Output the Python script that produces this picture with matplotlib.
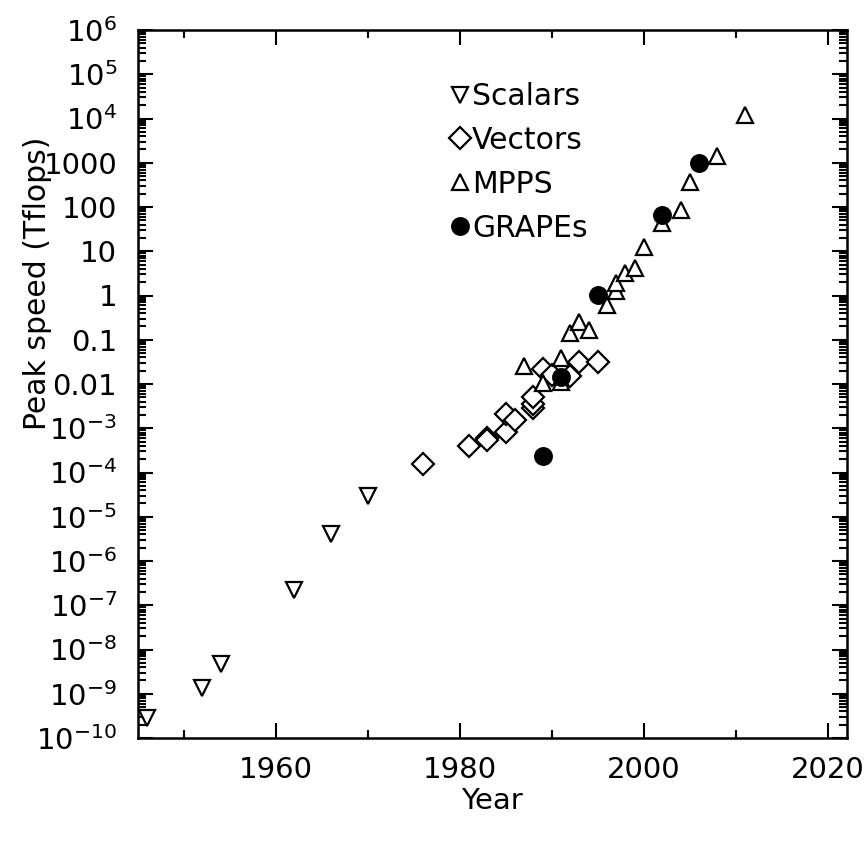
import numpy as np
import matplotlib
matplotlib.use("Agg")
import matplotlib.pyplot as plt
from matplotlib.ticker import LogLocator, FuncFormatter, MultipleLocator, NullFormatter

# ---- data (year, peak speed in Tflops) ----
scalar_year = [1946, 1952, 1954, 1962, 1966, 1970]
scalar_speed = [2.8e-10, 1.35e-9, 4.7e-9, 2.2e-7, 4.0e-6, 3.0e-5]

vector_year = [1976, 1981, 1983, 1983, 1985, 1985, 1986, 1988, 1988, 1988,
               1989, 1990, 1992, 1993, 1995]
vector_speed = [1.55e-4, 4.0e-4, 5.9e-4, 5.3e-4, 8.3e-4, 2.1e-3, 1.5e-3, 2.9e-3, 3.6e-3, 5.1e-3,
                0.022, 0.016, 0.015, 0.032, 0.031]

mpp_year = [1987, 1989, 1991, 1991, 1992, 1993, 1994, 1996, 1997, 1997,
            1998, 1999, 2000, 2002, 2004, 2005, 2008, 2011]
mpp_speed = [0.025, 0.0105, 0.038, 0.011, 0.14, 0.25, 0.165, 0.62, 1.27, 1.95,
             3.3, 4.1, 12.7, 44, 85, 375, 1440, 1.2e4]

grape_year = [1989, 1991, 1995, 2002, 2006]
grape_speed = [2.4e-4, 0.0146, 1.05, 66, 1000]

labels = ["Scalars", "Vectors", "MPPS", "GRAPEs"]

plt.rcParams['font.family'] = ['DejaVu Sans']
plt.rcParams['mathtext.fontset'] = 'dejavusans'

fig = plt.figure(figsize=(8.68, 8.43), dpi=100)
ax = fig.add_axes([138/868, 1-738/843, (847-138)/868, (738-30)/843])

mew = 1.6
ax.plot(scalar_year, scalar_speed, ls='none', marker='v', ms=11.5, mfc='white', mec='black', mew=mew, label=labels[0])
ax.plot(vector_year, vector_speed, ls='none', marker='D', ms=11.5, mfc='white', mec='black', mew=mew, label=labels[1])
ax.plot(mpp_year, mpp_speed, ls='none', marker='^', ms=11.5, mfc='white', mec='black', mew=mew, label=labels[2])
ax.plot(grape_year, grape_speed, ls='none', marker='o', ms=12, mfc='black', mec='black', mew=mew, label=labels[3])

ax.set_yscale('log')
ax.set_xlim(1945, 2022.1)
ax.set_ylim(1e-10, 1e6)

ax.xaxis.set_major_locator(MultipleLocator(20))
ax.xaxis.set_minor_locator(MultipleLocator(10))
ax.yaxis.set_major_locator(LogLocator(base=10, numticks=40))
ax.yaxis.set_minor_locator(LogLocator(base=10, subs=np.arange(2, 10), numticks=200))
ax.yaxis.set_minor_formatter(NullFormatter())

def yfmt(v, pos):
    n = int(round(np.log10(v)))
    names = {0: "1", 1: "10", 2: "100", 3: "1000", -1: "0.1", -2: "0.01"}
    if n in names:
        return names[n]
    return r"$10^{%d}$" % n

ax.yaxis.set_major_formatter(FuncFormatter(yfmt))

ax.tick_params(which='both', direction='in', top=True, right=True, width=1.5, labelsize=21)
ax.tick_params(which='major', length=11)
ax.tick_params(which='minor', length=5.5)
ax.tick_params(axis='y', which='major', pad=15)
ax.tick_params(axis='x', which='major', pad=13)
for s in ax.spines.values():
    s.set_linewidth(1.8)

fig.text(492/868, 1-801/843, "Year", ha='center', va='center', fontsize=21)
fig.text(38/868, 1-283/843, "Peak speed (Tflops)", ha='center', va='center', rotation=90, fontsize=21.5)

leg = ax.legend(loc='upper left', bbox_to_anchor=(314/709, 1-52/708), frameon=False,
                fontsize=21.5, handlelength=0.55, handletextpad=0.12, labelspacing=0.5,
                borderaxespad=0, borderpad=0)

fig.savefig("out.png", dpi=100)
